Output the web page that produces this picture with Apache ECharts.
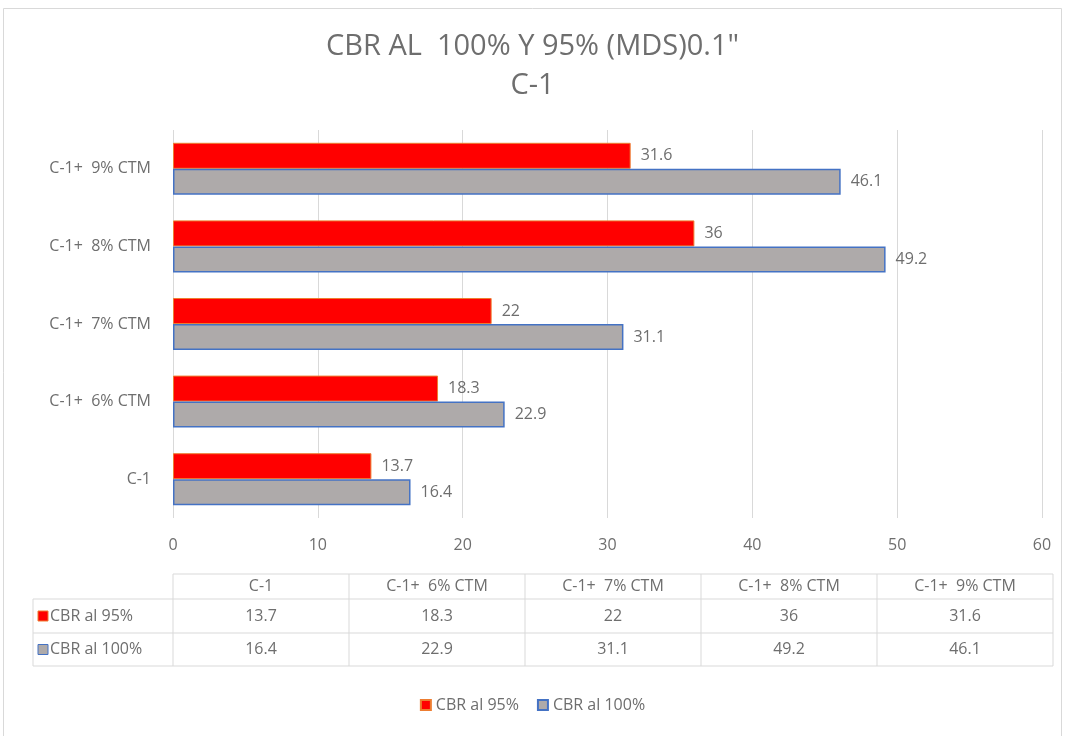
<!DOCTYPE html>
<html>
<head>
<meta charset="utf-8">
<script src="https://cdn.jsdelivr.net/npm/echarts@6/dist/echarts.min.js"></script>
<style>
  html, body { margin: 0; padding: 0; background: #fff; }
  #chart { width: 1065px; height: 736px; }
</style>
</head>
<body>
<div id="chart"></div>
<script>
// data
var categories = ['C-1', 'C-1+  6% CTM', 'C-1+  7% CTM', 'C-1+  8% CTM', 'C-1+  9% CTM'];
var cbr95 = [13.7, 18.3, 22, 36, 31.6];
var cbr100 = [16.4, 22.9, 31.1, 49.2, 46.1];
var seriesNames = ['CBR al 95%', 'CBR al 100%'];
var xTicks = [0, 10, 20, 30, 40, 50, 60];

var txt = '#6e6e6e';
var font = 'Open Sans';

var chart = echarts.init(document.getElementById('chart'));

// data table under the plot (built from the arrays above)
function buildTable() {
  var els = [];
  var x0 = 173, colW = 176, labX = 33;
  var yH = 574, y1 = 599, y2 = 633, y3 = 666;
  var right = x0 + colW * categories.length;
  var line = {stroke: '#d9d9d9', lineWidth: 1};
  // horizontal lines
  els.push({type: 'line', shape: {x1: x0, y1: yH, x2: right, y2: yH}, style: line});
  [y1, y2, y3].forEach(function (y) {
    els.push({type: 'line', shape: {x1: labX, y1: y, x2: right, y2: y}, style: line});
  });
  // vertical lines
  els.push({type: 'line', shape: {x1: labX, y1: y1, x2: labX, y2: y3}, style: line});
  for (var i = 0; i <= categories.length; i++) {
    els.push({type: 'line', shape: {x1: x0 + i * colW, y1: yH, x2: x0 + i * colW, y2: y3}, style: line});
  }
  var rows = [cbr95, cbr100];
  var rowY = [(y1 + y2) / 2, (y2 + y3) / 2];
  categories.forEach(function (c, i) {
    var cx = x0 + colW * i + colW / 2;
    els.push({type: 'text', x: cx, y: (yH + y1) / 2, style: {text: c, fill: txt, font: '16px ' + font, align: 'center', verticalAlign: 'middle'}});
    rows.forEach(function (r, j) {
      els.push({type: 'text', x: cx, y: rowY[j], style: {text: String(r[i]), fill: txt, font: '16px ' + font, align: 'center', verticalAlign: 'middle'}});
    });
  });
  var sw = [{fill: '#ff0000', stroke: '#ed7d31'}, {fill: '#aeaaaa', stroke: '#4472c4'}];
  seriesNames.forEach(function (n, j) {
    els.push({type: 'rect', shape: {x: 38, y: rowY[j] - 5, width: 10, height: 10}, style: {fill: sw[j].fill, stroke: sw[j].stroke, lineWidth: 1}});
    els.push({type: 'text', x: 50, y: rowY[j], style: {text: n, fill: txt, font: '16px ' + font, verticalAlign: 'middle'}});
  });
  return els;
}

var option = {
  backgroundColor: '#fff',
  textStyle: {fontFamily: font},
  title: {
    text: 'CBR AL  100% Y 95% (MDS)0.1"\nC-1',
    left: 'center',
    top: 22,
    textStyle: {color: '#6e6e6e', fontSize: 29, fontWeight: 'normal', fontFamily: font, lineHeight: 39}
  },
  legend: {
    data: seriesNames,
    bottom: 18,
    left: 'center',
    icon: 'rect',
    itemWidth: 10,
    itemHeight: 10,
    itemGap: 18,
    textStyle: {color: txt, fontSize: 16}
  },
  grid: {left: 173, right: 23, top: 130, bottom: 218, containLabel: false},
  xAxis: {
    type: 'value',
    min: xTicks[0],
    max: xTicks[xTicks.length - 1],
    interval: 10,
    axisLine: {show: false},
    axisTick: {show: false},
    axisLabel: {color: txt, fontSize: 16, margin: 19},
    splitLine: {lineStyle: {color: '#d9d9d9'}}
  },
  yAxis: {
    type: 'category',
    data: categories,
    axisLine: {show: false},
    axisTick: {show: false},
    axisLabel: {color: txt, fontSize: 16, margin: 22}
  },
  series: [
    {
      name: seriesNames[0],
      type: 'bar',
      data: cbr95,
      barGap: '0%',
      barCategoryGap: '33%',
      itemStyle: {color: '#ff0000', borderColor: '#ed7d31', borderWidth: 1},
      label: {show: true, position: 'right', distance: 10, color: txt, fontSize: 16}
    },
    {
      name: seriesNames[1],
      type: 'bar',
      data: cbr100,
      barGap: '0%',
      barCategoryGap: '33%',
      itemStyle: {color: '#aeaaaa', borderColor: '#4472c4', borderWidth: 1.5},
      label: {show: true, position: 'right', distance: 10, color: txt, fontSize: 16}
    }
  ],
  graphic: [
    {type: 'rect', shape: {x: 3.5, y: 8.5, width: 1058, height: 740}, style: {fill: null, stroke: '#d9d9d9', lineWidth: 1}, silent: true}
  ].concat(buildTable())
};

chart.setOption(option);
</script>
</body>
</html>
